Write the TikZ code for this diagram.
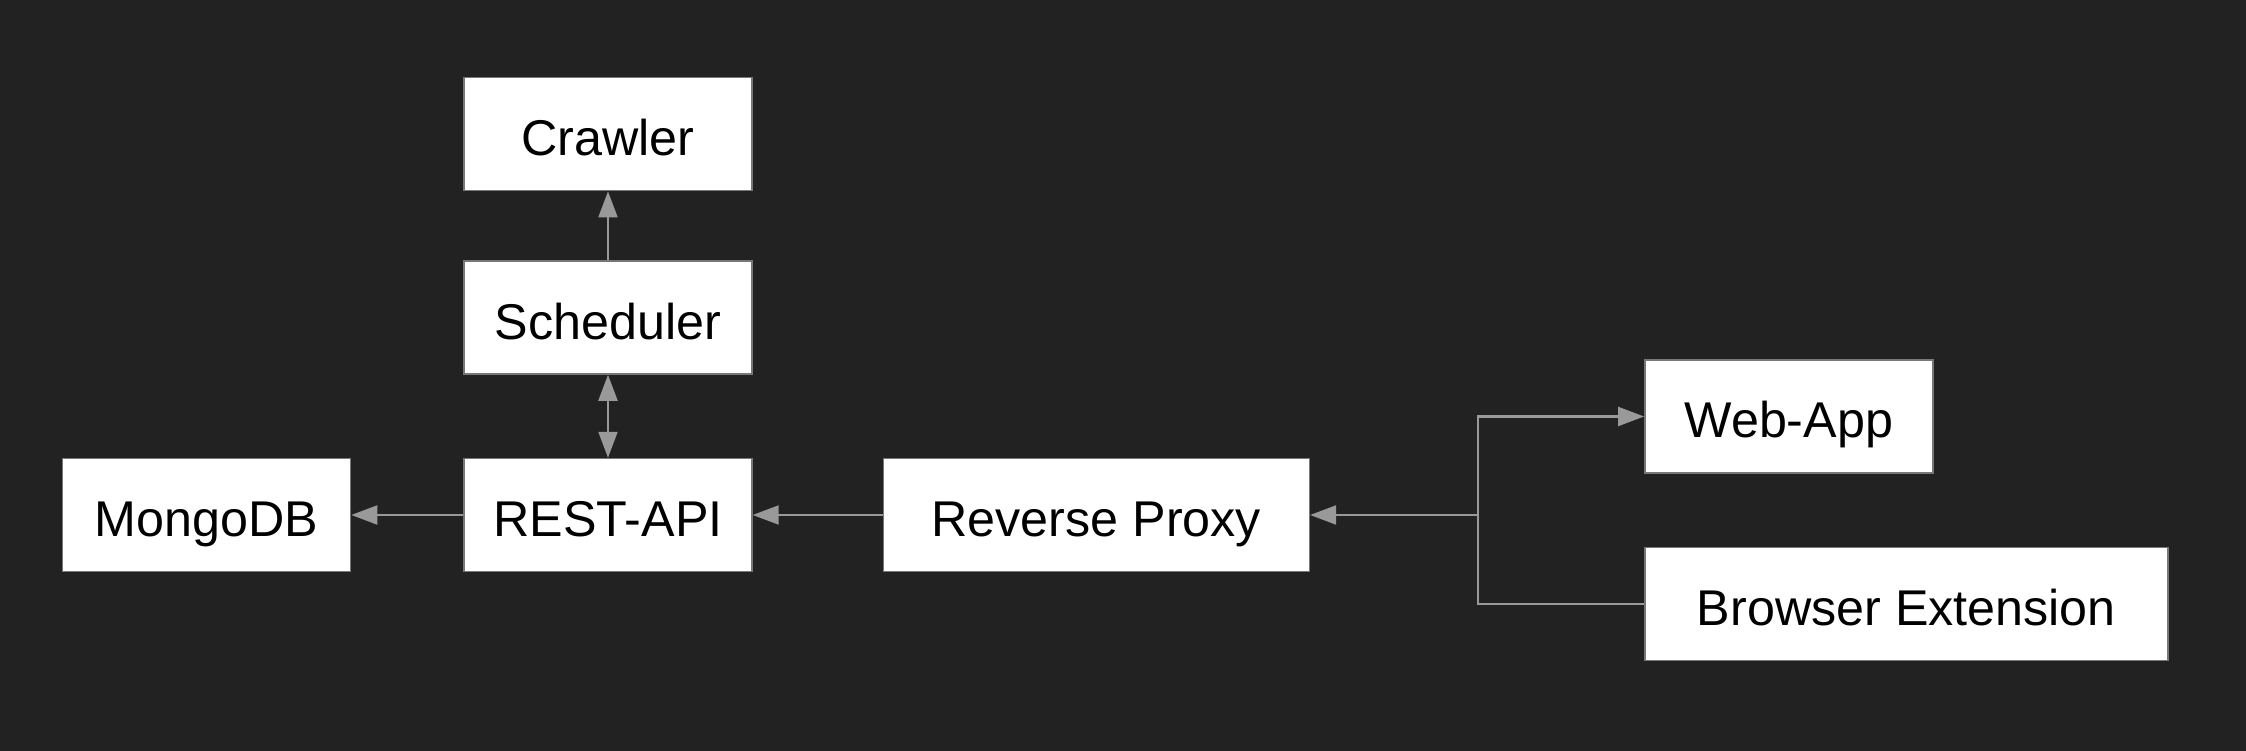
\documentclass[tikz,border=0pt]{standalone}
\usepackage{fontspec}
\setmainfont{Liberation Sans}
\usepackage{tikz}
\usetikzlibrary{arrows.meta, positioning, calc}

\definecolor{canvas}{HTML}{222222}
\definecolor{wire}{HTML}{999999}
\definecolor{rim}{HTML}{777777}

\begin{document}
\begin{tikzpicture}[
  node distance=0.8cm and 1.2cm,
  box/.style={
    rectangle, draw=rim, line width=0.4pt, fill=white,
    minimum width=2.88cm, minimum height=1.13cm,
    inner sep=0pt, align=center, text=black,
    text height=0.48cm, text depth=0.05cm,
    font=\fontsize{14.3}{16}\selectfont
  },
  wide/.style={box, minimum width=4.26cm},
  wider/.style={box, minimum width=5.23cm},
  link/.style={draw=wire, line width=0.6pt},
  arrow/.style={link, -{Triangle[length=0.26cm, width=0.19cm]}},
  both/.style={link, {Triangle[length=0.26cm, width=0.19cm]}-{Triangle[length=0.26cm, width=0.19cm]}}
]
% background and page size
\fill[canvas] (-6.08,-2.36) rectangle (16.38,5.15);
\useasboundingbox (-6.08,-2.36) rectangle (16.38,5.15);

\node[box] (api) {REST-API};
\node[box, left=1.12cm of api] (mongo) {MongoDB};
\node[box, above=0.83cm of api] (sched) {Scheduler};
\node[box, above=0.69cm of sched] (crawler) {Crawler};

\node[wide, right=1.30cm of api] (proxy) {Reverse Proxy};
\coordinate[right=1.68cm of proxy] (hub);

\node[box, right=3.34cm of proxy, yshift=0.985cm] (webapp) {Web-App};
\node[wider, below=0.73cm of webapp.south west, anchor=north west] (ext) {Browser Extension};

\draw[arrow] (sched) -- (crawler);
\draw[both] (api) -- (sched);
\draw[arrow] (api) -- (mongo);
\draw[arrow] (proxy) -- (api);
\draw[link] (ext.west) -| (hub);
\draw[arrow] (hub) |- (webapp.west);
\draw[arrow] (hub) -- (proxy);
\end{tikzpicture}
\end{document}
